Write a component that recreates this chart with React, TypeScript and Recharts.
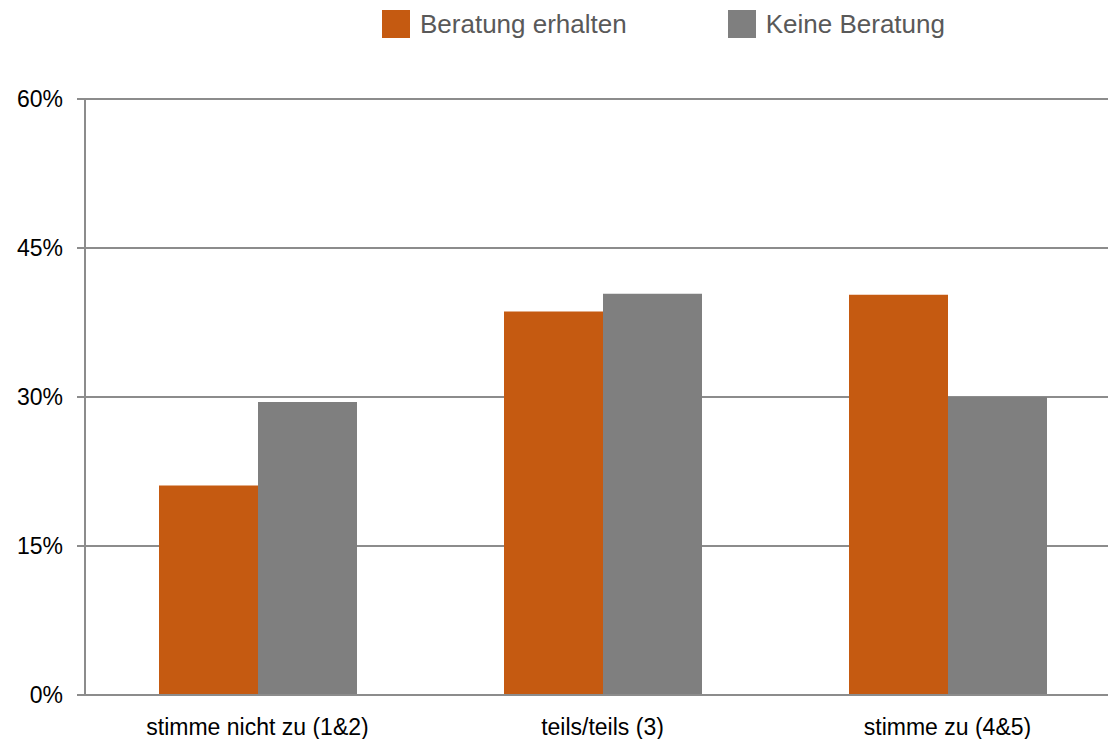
import { BarChart, Bar, XAxis, YAxis, CartesianGrid } from "recharts"

const categories = ["stimme nicht zu (1&2)", "teils/teils (3)", "stimme zu (4&5)"]
const beratungErhalten = [21.1, 38.6, 40.3]
const keineBeratung = [29.5, 40.4, 30.0]
const yTicks = [0, 15, 30, 45, 60]
const seriesNames = ["Beratung erhalten", "Keine Beratung"]
const seriesColors = ["#C55A11", "#7F7F7F"]

const data = categories.map((label, i) => ({
  label,
  erhalten: beratungErhalten[i],
  keine: keineBeratung[i],
}))

// tick marks sit on the category boundaries, not the centres
const categoryEdges = categories.map((_, i) => i).concat(categories.length)

const FONT = "'Liberation Sans', Arial, sans-serif"
const AXIS = "#8c8c8c"

export default function App() {
  return (
    <div
      style={{
        position: "absolute",
        left: 0,
        top: 0,
        width: 1108,
        height: 739,
        overflow: "hidden",
        background: "#fff",
        fontFamily: FONT,
      }}
    >
      <div
        style={{
          position: "absolute",
          left: 382,
          top: 10,
          display: "flex",
          alignItems: "center",
          gap: 101,
          fontSize: 26,
          color: "#595959",
          lineHeight: "28px",
        }}
      >
        {seriesNames.map((name, i) => (
          <div key={name} style={{ display: "flex", alignItems: "center", gap: 10 }}>
            <span style={{ width: 28, height: 28, background: seriesColors[i], display: "inline-block" }} />
            <span>{name}</span>
          </div>
        ))}
      </div>
      <BarChart
        width={1120}
        height={739}
        data={data}
        margin={{ top: 99, right: 0, bottom: 0, left: 0 }}
        barCategoryGap={74}
        barGap={0}
        style={{ position: "absolute", left: 0, top: 0 }}
      >
        <CartesianGrid xAxisId="cat" vertical={false} stroke={AXIS} strokeWidth={2} />
        <XAxis
          xAxisId="edge"
          type="number"
          domain={[0, categories.length]}
          ticks={categoryEdges}
          tick={false}
          axisLine={false}
          tickLine={{ stroke: AXIS, strokeWidth: 2 }}
          tickSize={7}
          height={0}
        />
        <XAxis
          xAxisId="cat"
          dataKey="label"
          height={44}
          tickLine={false}
          tickSize={0}
          tickMargin={24}
          axisLine={{ stroke: AXIS, strokeWidth: 2 }}
          tick={{ fill: "#000", fontSize: 23, fontFamily: FONT }}
        />
        <YAxis
          width={85}
          domain={[0, 60]}
          ticks={yTicks}
          tickFormatter={(v) => `${v}%`}
          tickSize={8}
          tickMargin={14}
          tickLine={{ stroke: AXIS, strokeWidth: 2 }}
          axisLine={{ stroke: AXIS, strokeWidth: 2 }}
          tick={{ fill: "#000", fontSize: 23, fontFamily: FONT }}
        />
        <Bar xAxisId="cat" dataKey="erhalten" name={seriesNames[0]} fill={seriesColors[0]} isAnimationActive={false} />
        <Bar xAxisId="cat" dataKey="keine" name={seriesNames[1]} fill={seriesColors[1]} isAnimationActive={false} />
      </BarChart>
    </div>
  )
}
